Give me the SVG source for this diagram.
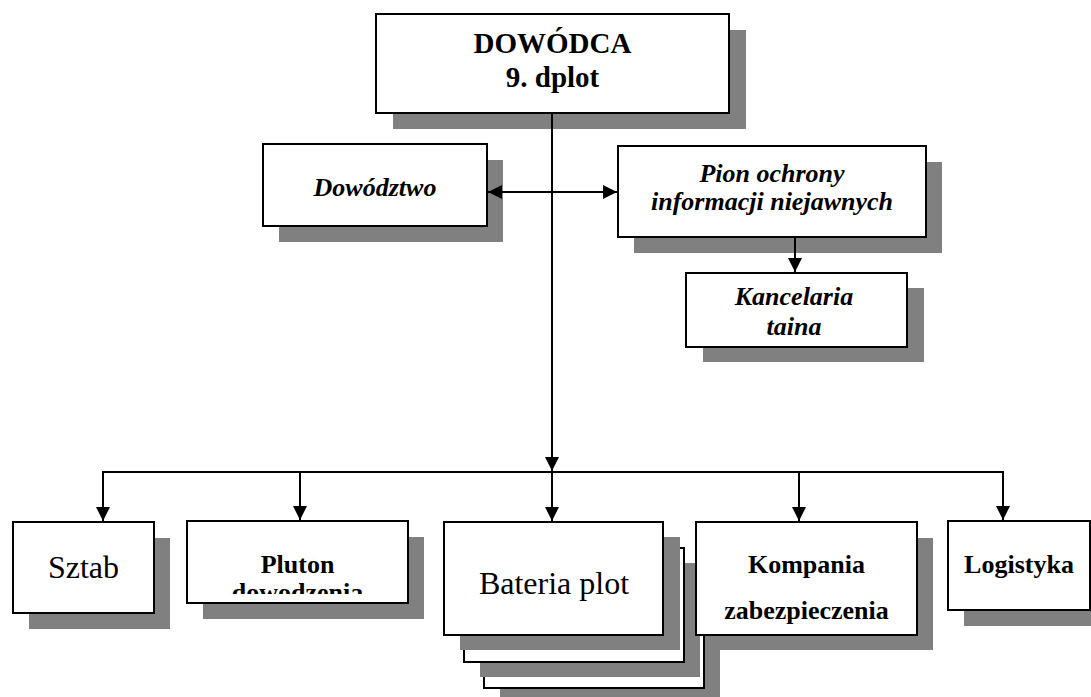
<svg xmlns="http://www.w3.org/2000/svg" width="1091" height="697" viewBox="0 0 1091 697">
<style>
.sh{fill:#808080;stroke:none}
.bx{fill:#fff;stroke:#000;stroke-width:2}
.ln{fill:none;stroke:#000;stroke-width:2}
text{font-family:"Liberation Serif","Times New Roman",serif;text-anchor:middle;fill:#000}
.b{font-weight:bold;font-size:26px}
.bi{font-weight:bold;font-style:italic;font-size:26px}
.r{font-size:32px}
</style>
<defs>
<marker id="ah" viewBox="0 0 14 14" refX="14" refY="7" markerWidth="14" markerHeight="14" markerUnits="userSpaceOnUse" orient="auto">
<path d="M0,0 L14,7 L0,14 Z" fill="#000"/>
</marker>
<marker id="ahs" viewBox="0 0 14 14" refX="0" refY="7" markerWidth="14" markerHeight="14" markerUnits="userSpaceOnUse" orient="auto">
<path d="M14,0 L0,7 L14,14 Z" fill="#000"/>
</marker>
<clipPath id="plclip"><rect x="188" y="522" width="219" height="72"/></clipPath>
</defs>
<rect width="1091" height="697" fill="#fff"/>

<g id="dowodca">
<rect class="sh" x="393" y="30" width="353" height="99"/>
<rect class="bx" x="376" y="14" width="353" height="99"/>
<text class="b" x="552.5" y="53" style="font-size:29px">DOWÓDCA</text>
<text class="b" x="552.5" y="87" style="font-size:29px">9. dplot</text>
</g>

<g id="dowodztwo">
<rect class="sh" x="279" y="160" width="224" height="82"/>
<rect class="bx" x="263" y="144" width="224" height="82"/>
<text class="bi" x="375" y="196">Dowództwo</text>
</g>

<g id="pion">
<rect class="sh" x="634" y="162" width="308" height="91"/>
<rect class="bx" x="618" y="146" width="308" height="91"/>
<text class="bi" x="772" y="182">Pion ochrony</text>
<text class="bi" x="772" y="210">informacji niejawnych</text>
</g>

<g id="kancelaria">
<rect class="sh" x="703" y="288" width="221" height="74"/>
<rect class="bx" x="686" y="273" width="221" height="74"/>
<text class="bi" x="794" y="305">Kancelaria</text>
<text class="bi" x="794" y="335">taina</text>
</g>

<g id="sztab">
<rect class="sh" x="29" y="538" width="141" height="91"/>
<rect class="bx" x="13" y="522" width="141" height="91"/>
<text class="r" x="83.5" y="578">Sztab</text>
</g>

<g id="pluton">
<rect class="sh" x="203" y="537" width="221" height="82"/>
<rect class="bx" x="187" y="521" width="221" height="82"/>
<text class="b" x="297.5" y="573">Pluton</text>
<g clip-path="url(#plclip)"><text class="b" x="297.5" y="601">dowodzenia</text></g>
</g>

<g id="bateria">
<rect class="sh" x="500" y="590" width="220" height="114"/>
<rect class="bx" x="484" y="575" width="220" height="113"/>
<rect class="sh" x="480" y="563" width="220" height="114"/>
<rect class="bx" x="464" y="548" width="220" height="114"/>
<rect class="sh" x="460" y="537" width="220" height="113"/>
<rect class="bx" x="444" y="522" width="219" height="113"/>
<text class="r" x="554" y="594">Bateria plot</text>
</g>

<g id="kompania">
<rect class="sh" x="712" y="538" width="221" height="112"/>
<rect class="bx" x="696" y="522" width="221" height="113"/>
<text class="b" x="806.5" y="573">Kompania</text>
<text class="b" x="806.5" y="619">zabezpieczenia</text>
</g>

<g id="logistyka">
<rect class="sh" x="964" y="537" width="142" height="89"/>
<rect class="bx" x="948" y="521" width="142" height="89"/>
<text class="b" x="1019" y="573">Logistyka</text>
</g>

<g id="connectors">
<line class="ln" x1="552" y1="113" x2="552" y2="471" marker-end="url(#ah)"/>
<line class="ln" x1="488" y1="192" x2="617" y2="192" marker-start="url(#ahs)" marker-end="url(#ah)"/>
<line class="ln" x1="795" y1="238" x2="795" y2="272" marker-end="url(#ah)"/>
<line class="ln" x1="102" y1="472" x2="1004" y2="472"/>
<line class="ln" x1="103" y1="472" x2="103" y2="521" marker-end="url(#ah)"/>
<line class="ln" x1="300" y1="472" x2="300" y2="520" marker-end="url(#ah)"/>
<line class="ln" x1="552" y1="472" x2="552" y2="521" marker-end="url(#ah)"/>
<line class="ln" x1="799" y1="472" x2="799" y2="521" marker-end="url(#ah)"/>
<line class="ln" x1="1003" y1="472" x2="1003" y2="520" marker-end="url(#ah)"/>
</g>
</svg>
